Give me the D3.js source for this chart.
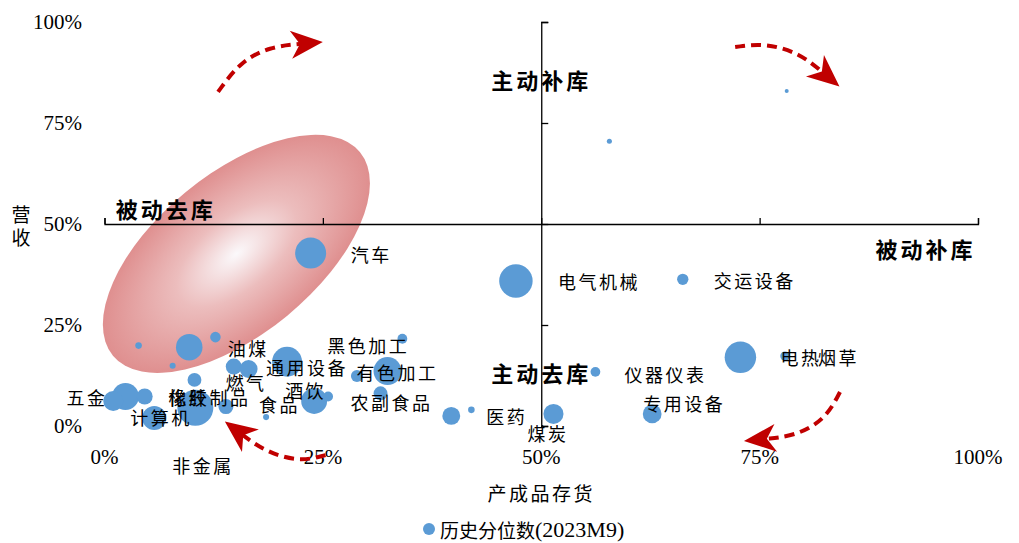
<!DOCTYPE html>
<html>
<head>
<meta charset="utf-8">
<script src="https://cdn.jsdelivr.net/npm/d3@7"></script>
<style>
  html, body { margin: 0; padding: 0; background: #fff; }
  svg { display: block; }
  .cjk { font-family: "Noto Sans CJK SC", "Noto Sans", sans-serif; }
  .num { font-family: "Liberation Serif", "Times New Roman", serif; }
</style>
</head>
<body>
<svg id="chart" width="1019" height="543"></svg>
<script>
// ---------------- DATA ----------------
// x: 产成品存货 historical percentile (%), y: 营收 historical percentile (%), size: bubble weight
const names = ["", "", "汽车", "电气机械", "交运设备", "电热", "烟草", "仪器仪表", "专用设备", "煤炭",
  "医药", "", "黑色加工", "通用设备", "有色加工", "", "农副食品", "酒饮", "", "食品",
  "油煤", "燃气", "五金", "", "", "计算机", "非金属", "橡胶制品", "化纤", "",
  "", "", ""];
const xValues = [78.1, 57.8, 23.6, 47.1, 66.2, 72.8, 77.9, 56.2, 62.7, 51.4,
  39.7, 42.0, 34.1, 20.9, 32.4, 28.9, 31.6, 24.0, 25.6, 18.5,
  14.8, 16.5, 2.4, 1.0, 4.6, 5.7, 10.4, 10.3, 13.9, 3.9,
  9.7, 12.7, 7.8];
const yValues = [82.9, 70.5, 42.8, 35.9, 36.3, 17.0, 17.3, 13.4, 3.0, 3.0,
  2.5, 4.0, 21.6, 15.9, 13.6, 12.4, 8.1, 6.2, 7.3, 2.2,
  14.7, 14.1, 7.3, 6.2, 7.3, 2.0, 4.5, 11.4, 4.8, 19.9,
  19.5, 22.0, 14.9];
const sizes = [1, 1.6, 60, 70, 8, 62, 5.5, 6, 22, 25,
  20, 2.7, 6, 56, 49, 9, 12, 42, 6, 2.3,
  16, 20, 45, 25, 16, 36, 81, 12, 14, 2.7,
  44, 7, 2.3];
// label placement relative to bubble centre (px)
const labelOffsets = [[0,0],[0,0],[40,1],[42,0],[31,1],[40,0],[33,1],[29,2],[-9,-11],[-26,19],
  [35,0],[0,0],[-75,6],[-21,5],[-31,1],[0,0],[-30,9],[-29,-11],[0,0],[-7,-13],
  [-6,-19],[-23,13],[-59,0],[0,0],[0,0],[-24,-1],[-23,57],[-26,17],[-58,-10],[0,0],
  [0,0],[0,0],[0,0]];

const tickValues = [0, 25, 50, 75, 100];
const tickLabels = ["0%", "25%", "50%", "75%", "100%"];
const quadrants = [
  {text: "主动补库", x: 50, y: 86},
  {text: "被动去库", x: 7, y: 54},
  {text: "被动补库", x: 94, y: 44},
  {text: "主动去库", x: 50, y: 13.3}
];
const legendLabel = "历史分位数";
const legendPeriod = "(2023M9)";
const xTitle = "产成品存货";
const yTitle = ["营", "收"];

// annotation arrows (data units, %)
const arrows = [
  [[13.0, 82.7], [15.5, 90.1], [18.9, 93.9], [22.6, 94.6]],
  [[72.2, 93.8], [75.6, 94.8], [79.6, 92.3], [82.3, 87.4]],
  [[84.2, 8.4], [82.5, 1.5], [79.0, -2.5], [75.6, -3.2]],
  [[25.3, -7.2], [22.4, -8.9], [18.4, -6.4], [15.7, -2.0]]
];
const ellipseCenter = [15.1, 42.6];

// ---------------- CHART ----------------
const svg = d3.select("#chart");
const x = d3.scaleLinear().domain([0, 100]).range([104.5, 978]);
const y = d3.scaleLinear().domain([0, 100]).range([426, 22]);
const r = d3.scaleSqrt().domain([0, 100]).range([0, 20]);

const defs = svg.append("defs");
const grad = defs.append("radialGradient").attr("id", "ellGrad")
  .attr("cx", "50%").attr("cy", "50%").attr("r", "50%");
grad.append("stop").attr("offset", "0%").attr("stop-color", "#fbf9fb");
grad.append("stop").attr("offset", "45%").attr("stop-color", "#ecbdbd");
grad.append("stop").attr("offset", "100%").attr("stop-color", "#df8f8f");

defs.append("marker").attr("id", "arrowHead")
  .attr("markerUnits", "userSpaceOnUse")
  .attr("markerWidth", 50).attr("markerHeight", 50)
  .attr("refX", 0).attr("refY", 0)
  .attr("viewBox", "-25 -25 50 50")
  .attr("orient", "auto")
  .append("path")
  .attr("d", "M21,0 L-11,-14 L-2,0 L-11,14 Z")
  .attr("fill", "#c00000");

// ellipse
svg.append("ellipse")
  .attr("transform", `translate(${x(ellipseCenter[0])},${y(ellipseCenter[1])}) rotate(-39.5)`)
  .attr("rx", 160).attr("ry", 80)
  .attr("fill", "url(#ellGrad)");

// axes crossing at (50%, 50%)
svg.append("g")
  .attr("transform", `translate(0,${y(50)})`)
  .call(d3.axisTop(x).tickValues(tickValues).tickSize(6).tickFormat(""));
svg.append("g")
  .attr("transform", `translate(${x(50)},0)`)
  .call(d3.axisRight(y).tickValues(tickValues).tickSize(7).tickFormat(""));
svg.selectAll(".domain, .tick line").attr("stroke", "#000").attr("stroke-width", 1.3);

// tick labels
svg.append("g").selectAll("text").data(tickValues).join("text")
  .attr("class", "num")
  .attr("x", 82).attr("y", d => y(d))
  .attr("text-anchor", "end").attr("dominant-baseline", "central")
  .attr("font-size", 21).attr("fill", "#000")
  .text((d, i) => tickLabels[i]);
svg.append("g").selectAll("text").data(tickValues).join("text")
  .attr("class", "num")
  .attr("x", d => x(d)).attr("y", 457)
  .attr("text-anchor", "middle").attr("dominant-baseline", "central")
  .attr("font-size", 21).attr("fill", "#000")
  .text((d, i) => tickLabels[i]);

// quadrant labels
svg.append("g").selectAll("text").data(quadrants).join("text")
  .attr("class", "cjk")
  .attr("x", d => x(d.x)).attr("y", d => y(d.y))
  .attr("text-anchor", "middle").attr("dominant-baseline", "central")
  .attr("font-size", 22).attr("font-weight", "bold")
  .style("letter-spacing", "3px")
  .attr("fill", "#000")
  .text(d => d.text);

// arrows
const line = d3.line().x(d => x(d[0])).y(d => y(d[1])).curve(d3.curveBasis);
svg.append("g").selectAll("path").data(arrows).join("path")
  .attr("d", line)
  .attr("fill", "none")
  .attr("stroke", "#c00000").attr("stroke-width", 4)
  .attr("stroke-dasharray", "10,6")
  .attr("marker-end", "url(#arrowHead)");

// bubbles
const idx = d3.range(xValues.length);
svg.append("g").selectAll("circle").data(idx).join("circle")
  .attr("cx", i => x(xValues[i]))
  .attr("cy", i => y(yValues[i]))
  .attr("r", i => r(sizes[i]))
  .attr("fill", "#5b9bd5");

// labels
svg.append("g").selectAll("text").data(idx.filter(i => names[i])).join("text")
  .attr("class", "cjk")
  .attr("x", i => x(xValues[i]) + labelOffsets[i][0])
  .attr("y", i => y(yValues[i]) + labelOffsets[i][1])
  .attr("dominant-baseline", "central")
  .attr("font-size", 18)
  .style("letter-spacing", "2.5px")
  .attr("fill", "#000")
  .text(i => names[i]);

// axis titles
svg.append("text").attr("class", "cjk")
  .attr("x", x(50)).attr("y", 492)
  .attr("text-anchor", "middle").attr("dominant-baseline", "central")
  .attr("font-size", 19).style("letter-spacing", "2.5px")
  .text(xTitle);
svg.append("g").selectAll("text").data(yTitle).join("text")
  .attr("class", "cjk")
  .attr("x", 21).attr("y", (d, i) => 213 + i * 23)
  .attr("text-anchor", "middle").attr("dominant-baseline", "central")
  .attr("font-size", 19)
  .text(d => d);

// legend
const lg = svg.append("g");
const lt = lg.append("text")
  .attr("x", 440).attr("y", 529)
  .attr("dominant-baseline", "central");
lt.append("tspan").attr("class", "cjk").attr("font-size", 19).text(legendLabel);
lt.append("tspan").attr("class", "num").attr("font-size", 22).text(legendPeriod);
lg.append("circle").attr("cx", 429).attr("cy", 529).attr("r", 6).attr("fill", "#5b9bd5");
</script>
</body>
</html>
